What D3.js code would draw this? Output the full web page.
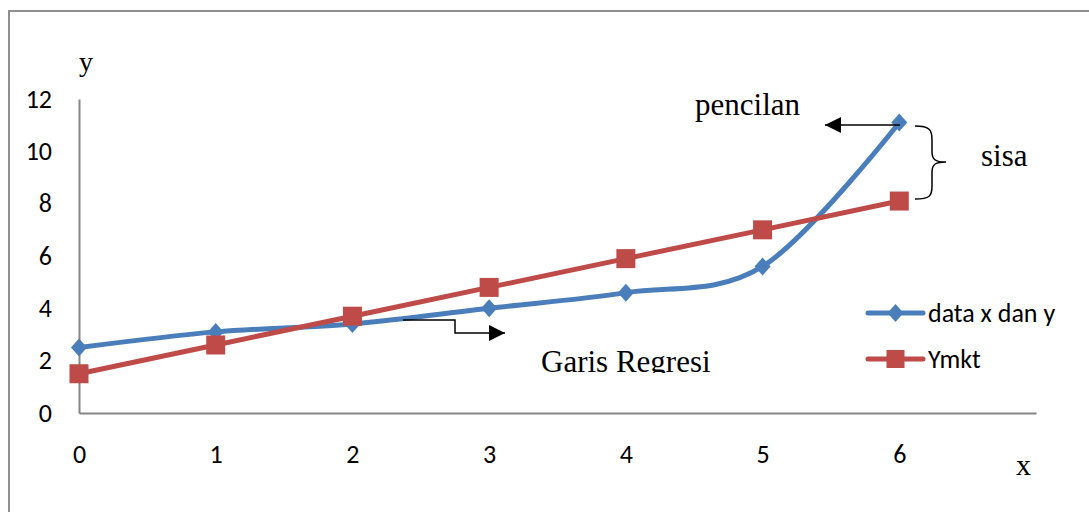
<!DOCTYPE html>
<html>
<head>
<meta charset="utf-8">
<script src="https://cdn.jsdelivr.net/npm/d3@7"></script>
<style>
  html, body { margin: 0; padding: 0; background: #fff; }
  svg { display: block; }
</style>
</head>
<body>
<svg id="chart" width="1089" height="512"></svg>
<script>
// ---- data ----
const xValues = [0, 1, 2, 3, 4, 5, 6];
const dataXY = [2.5, 3.1, 3.4, 4.0, 4.6, 5.6, 11.1];   // "data x dan y"
const yMkt   = [1.5, 2.6, 3.7, 4.8, 5.9, 7.0, 8.1];    // "Ymkt"
const seriesNames = ["data x dan y", "Ymkt"];
const xTicks = [0, 1, 2, 3, 4, 5, 6];
const yTicks = [0, 2, 4, 6, 8, 10, 12];

const BLUE = "#4A7EBB", RED = "#BE4B48", AXIS = "#868686";
const sansFont = "Carlito, Lato, 'Liberation Sans', sans-serif";
const serifFont = "'Liberation Serif', 'Times New Roman', serif";
const SANS_SIZE = 26;

const svg = d3.select("#chart");

// outer frame
svg.append("rect").attr("x", 9).attr("y", 11).attr("width", 1200).attr("height", 600)
  .attr("fill", "none").attr("stroke", "#8f8f8f").attr("stroke-width", 2);

const x = d3.scaleLinear().domain([0, 7]).range([79, 1036]);
const y = d3.scaleLinear().domain([0, 12]).range([413, 99]);

// axes
const gx = svg.append("g").attr("transform", `translate(0,${y(0)})`)
  .call(d3.axisBottom(x).tickValues(xTicks).tickSize(0).tickPadding(32).tickFormat(d3.format("d")));
const gy = svg.append("g").attr("transform", `translate(${x(0)},0)`)
  .call(d3.axisLeft(y).tickValues(yTicks).tickSize(0).tickPadding(27).tickFormat(d3.format("d")));
[gx, gy].forEach(g => {
  g.select(".domain").attr("stroke", AXIS).attr("stroke-width", 2);
  g.selectAll("text").attr("font-family", sansFont).attr("font-size", SANS_SIZE).attr("fill", "#000");
});

// diamond symbol
const diamond = {
  draw(ctx, size) {
    const w = 8, h = 9;
    ctx.moveTo(0, -h); ctx.lineTo(w, 0); ctx.lineTo(0, h); ctx.lineTo(-w, 0); ctx.closePath();
  }
};
const square = {
  draw(ctx, size) {
    const s = size / 2;
    ctx.rect(-s, -s, size, size);
  }
};

const ptsBlue = xValues.map((v, i) => [v, dataXY[i]]);
const ptsRed = xValues.map((v, i) => [v, yMkt[i]]);

const smooth = d3.line().x(d => x(d[0])).y(d => y(d[1])).curve(d3.curveCardinal.tension(0));
const straight = d3.line().x(d => x(d[0])).y(d => y(d[1]));

// blue series
svg.append("path").attr("d", smooth(ptsBlue)).attr("fill", "none")
  .attr("stroke", BLUE).attr("stroke-width", 5).attr("stroke-linejoin", "round");
svg.selectAll(".mb").data(ptsBlue).join("path")
  .attr("transform", d => `translate(${x(d[0])},${y(d[1])})`)
  .attr("d", d3.symbol().type(diamond)()).attr("fill", BLUE);

// red series
svg.append("path").attr("d", straight(ptsRed)).attr("fill", "none")
  .attr("stroke", RED).attr("stroke-width", 5).attr("stroke-linejoin", "round");
svg.selectAll(".mr").data(ptsRed).join("path")
  .attr("transform", d => `translate(${x(d[0])},${y(d[1])})`)
  .attr("d", d3.symbol().type(square).size(19)()).attr("fill", RED);

// legend
const legend = svg.append("g").attr("transform", "translate(868,313)");
[[BLUE, diamond, 0], [RED, square, 46]].forEach(([c, t, dy], i) => {
  const g = legend.append("g").attr("transform", `translate(0,${dy})`);
  g.append("line").attr("x1", 0).attr("x2", 55).attr("stroke", c).attr("stroke-width", 5)
    .attr("stroke-linecap", "round");
  g.append("path").attr("transform", "translate(27.5,0)")
    .attr("d", d3.symbol().type(t).size(18)()).attr("fill", c);
  g.append("text").attr("x", 60).attr("dy", "0.35em").text(seriesNames[i])
    .attr("font-family", sansFont).attr("font-size", SANS_SIZE).attr("fill", "#000");
});

// axis titles
svg.append("text").attr("x", 79).attr("y", 71).text("y")
  .attr("font-family", serifFont).attr("font-size", 28).attr("fill", "#000");
svg.append("text").attr("x", 1016).attr("y", 475).text("x")
  .attr("font-family", serifFont).attr("font-size", 30).attr("fill", "#000");

// arrow marker
const defs = svg.append("defs");
defs.append("marker").attr("id", "arr2").attr("viewBox", "0 0 16 16")
  .attr("refX", 16).attr("refY", 8).attr("markerWidth", 16).attr("markerHeight", 16)
  .attr("markerUnits", "userSpaceOnUse").attr("orient", "auto")
  .append("path").attr("d", "M0,0 L16,8 L0,16 Z").attr("fill", "#000");
defs.append("clipPath").attr("id", "clipG").append("rect")
  .attr("x", 500).attr("y", 330).attr("width", 300).attr("height", 43);

// pencilan annotation
svg.append("text").attr("x", 695).attr("y", 115).text("pencilan")
  .attr("font-family", serifFont).attr("font-size", 31).attr("fill", "#000");
svg.append("line").attr("x1", 900).attr("y1", 125).attr("x2", 825).attr("y2", 125)
  .attr("stroke", "#000").attr("stroke-width", 1.5).attr("marker-end", "url(#arr2)");

// brace + sisa
svg.append("path")
  .attr("d", "M915,126 C930,126 932,130 932,140 L932,152 C932,160 936,162 946,162 C936,162 932,164 932,172 L932,186 C932,196 930,199 915,199")
  .attr("fill", "none").attr("stroke", "#000").attr("stroke-width", 1.5);
svg.append("text").attr("x", 981).attr("y", 166).text("sisa")
  .attr("font-family", serifFont).attr("font-size", 31).attr("fill", "#000");

// Garis Regresi annotation
svg.append("path").attr("d", "M403,320 H455 V333 H505")
  .attr("fill", "none").attr("stroke", "#000").attr("stroke-width", 1.5).attr("marker-end", "url(#arr2)");
svg.append("text").attr("x", 541).attr("y", 372).text("Garis Regresi")
  .attr("font-family", serifFont).attr("font-size", 31).attr("fill", "#000")
  .attr("clip-path", "url(#clipG)");
</script>
</body>
</html>
